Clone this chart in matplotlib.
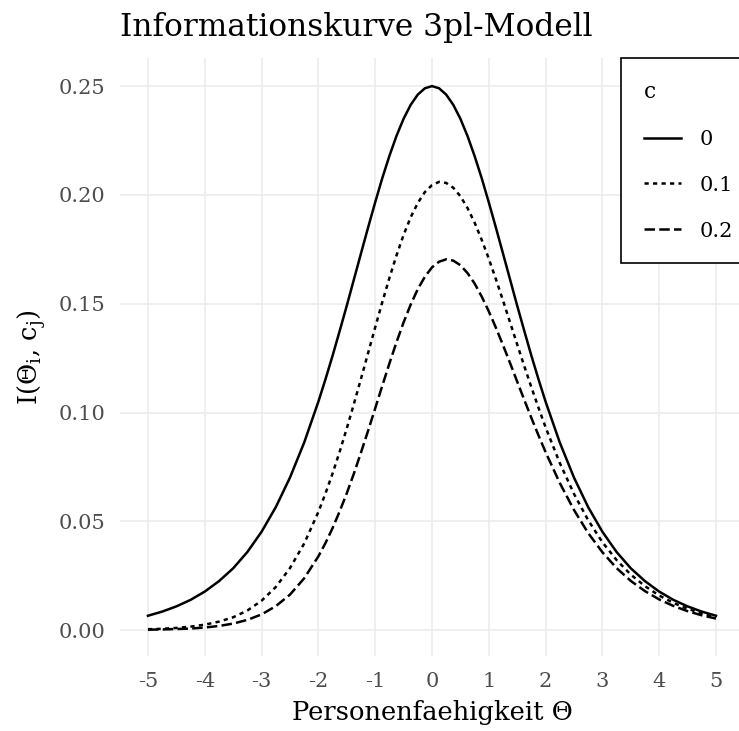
import matplotlib.pyplot as plt

# Werte (aussen Schritt 0.25, in der Mitte 0.125)
theta = [-5.0, -4.75, -4.5, -4.25, -4.0, -3.75, -3.5, -3.25, -3.0, -2.75, -2.5, -2.25,
         -2.0, -1.875, -1.75, -1.625, -1.5, -1.375, -1.25, -1.125, -1.0, -0.875, -0.75,
         -0.625, -0.5, -0.375, -0.25, -0.125, 0.0, 0.125, 0.25, 0.375, 0.5, 0.625, 0.75,
         0.875, 1.0, 1.125, 1.25, 1.375, 1.5, 1.625, 1.75, 1.875, 2.0,
         2.25, 2.5, 2.75, 3.0, 3.25, 3.5, 3.75, 4.0, 4.25, 4.5, 4.75, 5.0]

info_c0 = [0.0066, 0.0085, 0.0109, 0.0139, 0.0177, 0.0225, 0.0284, 0.0359, 0.0452, 0.0565, 0.0701, 0.0862,
           0.1050, 0.1153, 0.1261, 0.1375, 0.1491, 0.1611, 0.1731, 0.1850, 0.1966, 0.2077, 0.2179,
           0.2271, 0.2350, 0.2414, 0.2461, 0.2490, 0.2500, 0.2490, 0.2461, 0.2414, 0.2350, 0.2271, 0.2179,
           0.2077, 0.1966, 0.1850, 0.1731, 0.1611, 0.1491, 0.1375, 0.1261, 0.1153, 0.1050,
           0.0862, 0.0701, 0.0565, 0.0452, 0.0359, 0.0284, 0.0225, 0.0177, 0.0139, 0.0109, 0.0085, 0.0066]

info_c01 = [0.0004, 0.0006, 0.0010, 0.0016, 0.0025, 0.0039, 0.0059, 0.0090, 0.0135, 0.0198, 0.0285, 0.0398,
            0.0543, 0.0628, 0.0720, 0.0820, 0.0927, 0.1039, 0.1155, 0.1273, 0.1391, 0.1507, 0.1618,
            0.1722, 0.1816, 0.1897, 0.1963, 0.2013, 0.2045, 0.2060, 0.2055, 0.2033, 0.1994, 0.1940, 0.1873,
            0.1794, 0.1707, 0.1613, 0.1515, 0.1414, 0.1313, 0.1213, 0.1116, 0.1022, 0.0932,
            0.0768, 0.0626, 0.0505, 0.0404, 0.0322, 0.0255, 0.0202, 0.0159, 0.0125, 0.0098, 0.0077, 0.0060]

info_c02 = [0.0002, 0.0003, 0.0005, 0.0007, 0.0012, 0.0019, 0.0030, 0.0047, 0.0072, 0.0110, 0.0163, 0.0238,
            0.0339, 0.0400, 0.0469, 0.0546, 0.0629, 0.0719, 0.0816, 0.0916, 0.1019, 0.1123, 0.1225,
            0.1323, 0.1414, 0.1496, 0.1567, 0.1624, 0.1667, 0.1693, 0.1704, 0.1698, 0.1677, 0.1641, 0.1593,
            0.1533, 0.1465, 0.1390, 0.1310, 0.1227, 0.1142, 0.1058, 0.0975, 0.0895, 0.0818,
            0.0676, 0.0552, 0.0446, 0.0358, 0.0285, 0.0226, 0.0179, 0.0141, 0.0111, 0.0087, 0.0068, 0.0053]

c_labels = ['0', '0.1', '0.2']
x_ticks = [-5, -4, -3, -2, -1, 0, 1, 2, 3, 4, 5]
y_ticks = [0.00, 0.05, 0.10, 0.15, 0.20, 0.25]

plt.rcParams['font.family'] = 'DejaVu Serif'
plt.rcParams['mathtext.fontset'] = 'dejavuserif'

fig = plt.figure(figsize=(7.39, 7.31), dpi=100)
ax = fig.add_axes([0.1618, 0.1026, 0.8455, 0.818])

# Kurven
ax.plot(theta, info_c0, color='black', lw=1.8, linestyle='-', label=c_labels[0])
ax.plot(theta, info_c01, color='black', lw=1.8, linestyle=(0, (1.7, 1.7)), label=c_labels[1])
ax.plot(theta, info_c02, color='black', lw=1.8, linestyle=(0, (4.2, 1.7)), label=c_labels[2])

ax.set_xlim(-5.5, 5.5)
ax.set_ylim(-0.0119, 0.2629)
ax.set_xticks(x_ticks)
ax.set_xticklabels([str(t) for t in x_ticks])
ax.set_yticks(y_ticks)
ax.set_yticklabels(['%.2f' % t for t in y_ticks])

# theme_minimal-Look
ax.grid(True, color='#EBEBEB', lw=1.1)
ax.set_axisbelow(True)
for s in ax.spines.values():
    s.set_visible(False)
ax.tick_params(length=0, labelsize=15, labelcolor='#4D4D4D')
ax.tick_params(axis='x', pad=11.8)
ax.tick_params(axis='y', pad=10)

ax.set_title('Informationskurve 3pl-Modell', loc='left', fontsize=22.5, pad=16)
ax.set_xlabel('Personenfaehigkeit Θ', fontsize=18.5, labelpad=6.2)
ax.set_ylabel('I(Θ$_\\mathrm{i}$, c$_\\mathrm{j}$)', fontsize=18.5, labelpad=8)

# Legende oben rechts mit Rahmen
leg = ax.legend(title='c', loc='upper left', bbox_to_anchor=(0.803, 1.0),
                fontsize=15, title_fontsize=15.5, alignment='left',
                frameon=True, fancybox=False, framealpha=1, edgecolor='black',
                borderpad=1.1, labelspacing=1.29, handlelength=1.78,
                handletextpad=0.87, borderaxespad=0)
leg.get_frame().set_linewidth(1.2)

plt.savefig('out.png', dpi=100)
